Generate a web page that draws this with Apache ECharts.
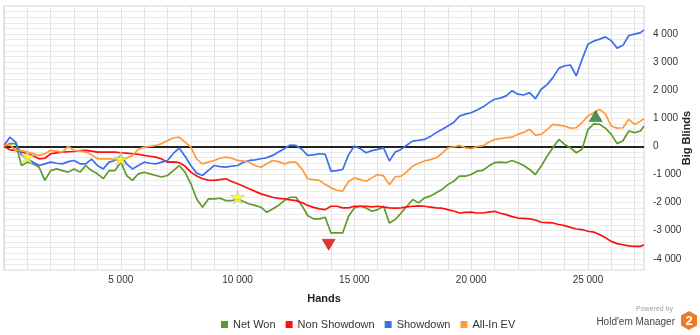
<!DOCTYPE html>
<html>
<head>
<meta charset="utf-8">
<script src="https://cdn.jsdelivr.net/npm/echarts@6/dist/echarts.min.js"></script>
<style>html,body{margin:0;padding:0;background:#fff}#c{width:700px;height:335px}</style>
</head>
<body>
<div id="c"></div>
<script>
const hands = [
  0,250,500,750,1000,1250,1500,1750,2000,2250,
  2500,2750,3000,3250,3500,3750,4000,4250,4500,4750,
  5000,5250,5500,5750,6000,6250,6500,6750,7000,7250,
  7500,7750,8000,8250,8500,8750,9000,9250,9500,9750,
  10000,10250,10500,10750,11000,11250,11500,11750,12000,12250,
  12500,12750,13000,13250,13500,13750,14000,14250,14500,14750,
  15000,15250,15500,15750,16000,16250,16500,16750,17000,17250,
  17500,17750,18000,18250,18500,18750,19000,19250,19500,19750,
  20000,20250,20500,20750,21000,21250,21500,21750,22000,22250,
  22500,22750,23000,23250,23500,23750,24000,24250,24500,24750,
  25000,25250,25500,25750,26000,26250,26500,26750,27000,27250,
  27400];
const netWon = [
  0,100,100,-680,-560,-620,-740,-1210,-860,-800,
  -860,-915,-800,-915,-680,-860,-975,-1150,-860,-860,
  -560,-1035,-1210,-975,-920,-975,-1035,-1090,-1035,-860,
  -680,-915,-1330,-1870,-2165,-1870,-1870,-1845,-1930,-1930,
  -1870,-1960,-2050,-2100,-2165,-2345,-2225,-2100,-1930,-1810,
  -1810,-2100,-2460,-2580,-2580,-2520,-3080,-3080,-3080,-2490,
  -2190,-2130,-2190,-2310,-2250,-2130,-2725,-2600,-2370,-2130,
  -1890,-2010,-1830,-1770,-1650,-1535,-1360,-1240,-1060,-1060,
  -1000,-880,-850,-700,-580,-560,-580,-500,-580,-680,
  -820,-1000,-700,-350,-50,250,70,-50,-225,-100,
  600,800,785,650,430,100,200,550,490,550,
  725];
const nonShowdown = [
  0,-120,-140,-200,-260,-330,-440,-420,-260,-230,
  -200,-190,-180,-150,-140,-170,-200,-200,-200,-200,
  -225,-240,-260,-280,-320,-350,-380,-450,-560,-550,
  -580,-700,-915,-1050,-1150,-1200,-1210,-1180,-1150,-1250,
  -1330,-1420,-1510,-1600,-1690,-1750,-1810,-1850,-1870,-1900,
  -1930,-2000,-2100,-2170,-2225,-2250,-2130,-2130,-2190,-2190,
  -2130,-2130,-2130,-2150,-2130,-2160,-2190,-2200,-2190,-2150,
  -2130,-2120,-2130,-2160,-2190,-2200,-2250,-2300,-2370,-2350,
  -2340,-2370,-2370,-2340,-2310,-2380,-2430,-2500,-2550,-2560,
  -2580,-2620,-2700,-2710,-2725,-2780,-2820,-2880,-2940,-2960,
  -3020,-3050,-3140,-3250,-3380,-3460,-3500,-3540,-3560,-3560,
  -3500];
const showdown = [
  35,330,155,-300,-440,-560,-680,-620,-560,-600,
  -620,-540,-500,-620,-620,-450,-680,-800,-560,-500,
  -320,-620,-800,-680,-560,-600,-620,-560,-500,-250,
  -60,-350,-680,-950,-1035,-850,-680,-720,-740,-700,
  -680,-560,-500,-480,-440,-400,-320,-200,-80,50,
  35,-100,-320,-300,-260,-280,-880,-860,-820,-300,
  12,-80,-225,-150,-107,-50,-520,-200,-107,50,
  190,220,250,350,490,600,725,850,1080,1150,
  1200,1300,1400,1550,1680,1720,1800,1980,1860,1830,
  1915,1700,2035,2200,2450,2780,2870,2900,2510,3100,
  3640,3750,3820,3900,3760,3500,3600,3950,4000,4050,
  4150];
const allInEV = [
  35,60,-140,-150,-200,-260,-320,-260,-140,-170,
  -200,0,-140,-170,-200,-300,-440,-440,-440,-470,
  -500,-420,-320,-100,-25,0,35,100,215,300,
  330,150,-25,-450,-620,-560,-500,-420,-380,-420,
  -500,-520,-560,-680,-740,-620,-500,-540,-620,-560,
  -560,-800,-1150,-1180,-1210,-1350,-1475,-1560,-1590,-1250,
  -1120,-1180,-1240,-1120,-1000,-1050,-1360,-1080,-1060,-900,
  -700,-600,-520,-470,-405,-250,-50,-20,35,-50,
  -80,0,20,150,250,280,310,330,430,500,
  610,400,430,600,785,760,725,650,665,850,
  1080,1200,1320,1150,725,650,665,965,785,900,
  990];
const seriesNames = ['Net Won','Non Showdown','Showdown','All-In EV'];
const starPoints = [[1000,-370],[5000,-440],[10000,-1800]];
const lowPoint = [[13900,-3500]];
const highPoint = [[25330,1080]];

const colors = ['#5e9a2e','#ff1010','#3d6ef2','#ff9a3a'];
function fmt(v){const s=Math.abs(v).toString();const t=s.length>3?s.slice(0,-3)+' '+s.slice(-3):s;return (v<0?'-':'')+t;}
function pairs(ys){return hands.map((h,i)=>[h,ys[i]]);}
const STAR='path://M50,0 L61,35 L98,35 L68,57 L79,91 L50,70 L21,91 L32,57 L2,35 L39,35 Z';
const FONT='Liberation Sans';
const chart = echarts.init(document.getElementById('c'), null, {renderer:'canvas'});
const lineSeries = [netWon,nonShowdown,showdown,allInEV].map((d,i)=>({
  name: seriesNames[i], type:'line', data: pairs(d), showSymbol:false, symbol:'none',
  lineStyle:{color:colors[i],width:1.7}, itemStyle:{color:colors[i]}, z:3, silent:true,
  markLine: i===0 ? {silent:true,symbol:'none',label:{show:false},lineStyle:{color:'#222',width:2,type:'solid'},data:[{yAxis:0}],z:2} : undefined
}));
chart.setOption({
  animation:false,
  textStyle:{fontFamily:FONT},
  grid:{left:4,right:56,top:6,bottom:65,show:true,borderColor:'#d6d6d6',borderWidth:1,outerBoundsMode:'none',containLabel:false},
  legend:{data:seriesNames,left:216,top:314,icon:'rect',itemWidth:7,itemHeight:7,itemGap:10,textStyle:{fontSize:11,color:'#333',fontFamily:FONT}},
  xAxis:{type:'value',min:0,max:27400,interval:1000,name:'Hands',nameLocation:'middle',nameGap:23,
    nameTextStyle:{fontWeight:'bold',fontSize:11,color:'#222'},
    axisLine:{lineStyle:{color:'#d6d6d6'}},axisTick:{show:false},
    axisLabel:{fontSize:10,color:'#333',margin:5,showMaxLabel:false,formatter:v=>(v>0&&v%5000===0)?fmt(v):''},
    splitLine:{lineStyle:{color:'#e4e4e4',width:1}}},
  yAxis:{type:'value',position:'right',min:-4400,max:5000,interval:200,
    axisLine:{show:true,lineStyle:{color:'#d6d6d6'}},axisTick:{show:false},
    axisLabel:{fontSize:10,color:'#333',margin:9,showMinLabel:false,showMaxLabel:false,formatter:v=>(v%1000===0)?fmt(v):''},
    splitLine:{lineStyle:{color:'#ebebeb',width:1}}},
  graphic:[
    {type:'text',x:687,y:138,rotation:Math.PI/2,style:{text:'Big Blinds',fontSize:11,fontWeight:'bold',fill:'#222',align:'center',verticalAlign:'middle',fontFamily:FONT}},
    {type:'text',right:27,top:306,style:{text:'Powered by',fontSize:7,fill:'#a0a0a0',fontFamily:FONT}},
    {type:'text',right:25,top:317,style:{text:"Hold'em Manager",fontSize:10,fill:'#444',fontFamily:FONT}},
    {type:'polygon',shape:{points:[[689,311],[697,315.5],[697,325.5],[689,330],[681,325.5],[681,315.5]]},style:{fill:'#f07a24'}},
    {type:'text',x:689,y:321,style:{text:'2',fontSize:13,fontWeight:'bold',fill:'#fff',align:'center',verticalAlign:'middle',fontFamily:FONT}}
  ],
  series: lineSeries.concat([
    {type:'scatter',data:starPoints,symbol:STAR,symbolSize:14,itemStyle:{color:'#ffff00',borderColor:'#b8b8d0',borderWidth:0.8},z:5,silent:true},
    {type:'scatter',data:lowPoint,symbol:'triangle',symbolRotate:180,symbolSize:[13,11],itemStyle:{color:'#e00000',borderColor:'#900',borderWidth:0.5},z:5,silent:true},
    {type:'scatter',data:highPoint,symbol:'triangle',symbolSize:[13,11],itemStyle:{color:'#1f7a1f',borderColor:'#0a4a0a',borderWidth:0.5},z:5,silent:true}
  ])
});
</script>
</body>
</html>
